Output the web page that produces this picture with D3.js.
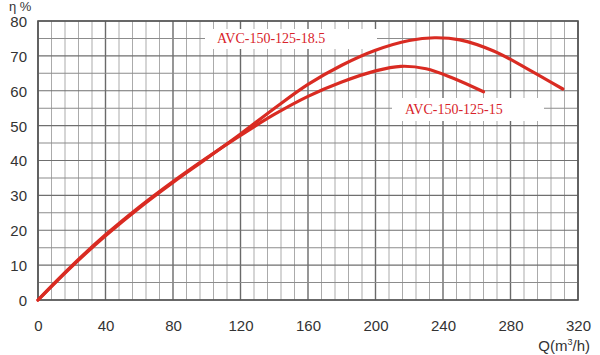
<!DOCTYPE html>
<html><head><meta charset="utf-8">
<script src="https://cdn.jsdelivr.net/npm/d3@7"></script>
<style>
html,body{margin:0;padding:0;background:#fff;}
svg{display:block;}
</style></head>
<body>
<svg id="chart" width="600" height="355"></svg>
<script>
// Data
const xTicks = [0, 40, 80, 120, 160, 200, 240, 280, 320];
const yTicks = [0, 10, 20, 30, 40, 50, 60, 70, 80];
const seriesNames = ["AVC-150-125-18.5", "AVC-150-125-15"];
const q185 = [0, 20, 40, 60, 80, 100, 120, 140, 160, 180, 200, 220, 235, 250, 270, 290, 311];
const eta185 = [0, 9.6, 18.4, 26.4, 33.7, 40.6, 47.6, 54.9, 61.8, 67.3, 71.6, 74.4, 75.2, 74.6, 71.4, 66.3, 60.5];
const q15 = [0, 20, 40, 60, 80, 100, 120, 140, 160, 180, 200, 215, 230, 245, 264];
const eta15 = [0, 9.8, 18.7, 26.7, 34.0, 40.8, 47.2, 53.2, 58.4, 62.5, 65.7, 67.0, 66.3, 63.8, 59.7];

const svg = d3.select("#chart");
const L = 38, R = 578, T = 21, B = 300;
const x = d3.scaleLinear().domain([0, 320]).range([L, R]);
const y = d3.scaleLinear().domain([0, 80]).range([B, T]);

const g = svg.append("g");
// vertical grid
g.selectAll(".vminor").data(d3.range(0, 321, 8)).enter().append("line")
  .attr("x1", d => x(d)).attr("x2", d => x(d)).attr("y1", T).attr("y2", B)
  .attr("stroke", d => d % 40 === 0 ? "#6a6a6a" : "#ababab")
  .attr("stroke-width", d => d % 40 === 0 ? 1.4 : 1);
// horizontal grid
g.selectAll(".hgrid").data(d3.range(0, 81, 5)).enter().append("line")
  .attr("x1", L).attr("x2", R).attr("y1", d => y(d)).attr("y2", d => y(d))
  .attr("stroke", d => d % 10 === 0 ? "#6f6f6f" : "#8c8c8c")
  .attr("stroke-width", 1.1);
// border
g.append("rect").attr("x", L).attr("y", T).attr("width", R - L).attr("height", B - T)
  .attr("fill", "none").attr("stroke", "#555").attr("stroke-width", 1.6);

// label backgrounds
svg.append("rect").attr("x", 205).attr("y", 29).attr("width", 172).attr("height", 20).attr("fill", "#fff");
svg.append("rect").attr("x", 392).attr("y", 98).attr("width", 152).attr("height", 23).attr("fill", "#fff");

// axes labels
const axisX = d3.axisBottom(x).tickValues(xTicks).tickSize(0).tickPadding(0);
const ax = svg.append("g").attr("transform", `translate(0,${B})`).call(axisX);
ax.select(".domain").remove();
ax.selectAll("text").attr("dy", null).attr("y", 31).attr("font-size", 15)
  .attr("font-family", "Liberation Sans, Arial, sans-serif").attr("fill", "#333");

const axisY = d3.axisLeft(y).tickValues(yTicks).tickSize(0).tickPadding(0);
const ay = svg.append("g").attr("transform", `translate(27,0)`).call(axisY);
ay.select(".domain").remove();
ay.selectAll("text").attr("dy", "0.36em").attr("x", 0).attr("font-size", 15)
  .attr("font-family", "Liberation Sans, Arial, sans-serif").attr("fill", "#333");

svg.append("text").attr("x", 9).attr("y", 11).attr("font-size", 13)
  .attr("font-family", "Liberation Sans, Arial, sans-serif").attr("fill", "#333").text("η %");

const qlab = svg.append("text").attr("x", 590).attr("y", 351).attr("text-anchor", "end")
  .attr("font-size", 15).attr("font-family", "Liberation Sans, Arial, sans-serif").attr("fill", "#333");
qlab.append("tspan").text("Q(m");
qlab.append("tspan").attr("font-size", 9).attr("dy", -6).text("3");
qlab.append("tspan").attr("dy", 6).text("/h)");

// curves
const line = d3.line().x(d => x(d[0])).y(d => y(d[1])).curve(d3.curveCatmullRom.alpha(0.5));
const s1 = q185.map((q, i) => [q, eta185[i]]);
const s2 = q15.map((q, i) => [q, eta15[i]]);
[s1, s2].forEach(s => {
  svg.append("path").attr("d", line(s)).attr("fill", "none")
    .attr("stroke", "#d92b22").attr("stroke-width", 3.2).attr("stroke-linecap", "round");
});

svg.append("text").attr("x", 217).attr("y", 43).attr("font-size", 14)
  .attr("font-family", "Liberation Serif, Times New Roman, serif").attr("fill", "#d8232a").text(seriesNames[0]);
svg.append("text").attr("x", 405).attr("y", 114).attr("font-size", 14)
  .attr("font-family", "Liberation Serif, Times New Roman, serif").attr("fill", "#d8232a").text(seriesNames[1]);
</script>
</body></html>
